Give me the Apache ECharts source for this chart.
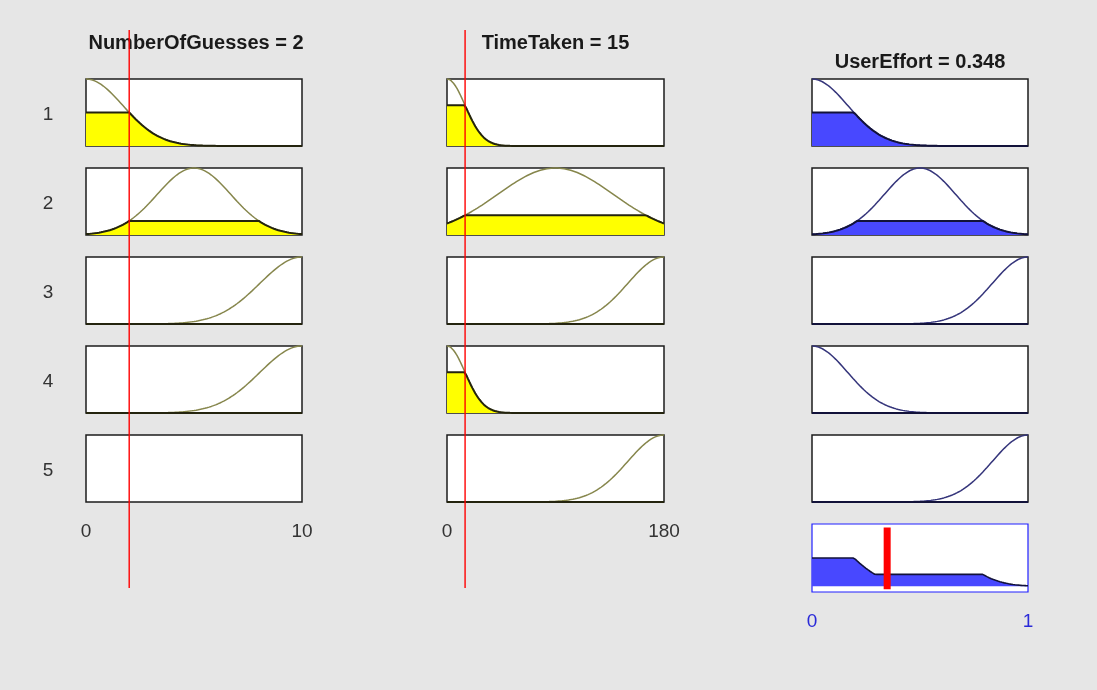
<!DOCTYPE html>
<html><head><meta charset="utf-8">
<script src="https://cdn.jsdelivr.net/npm/echarts@6/dist/echarts.min.js"></script>
<style>html,body{margin:0;padding:0;background:#e6e6e6}#c{width:1097px;height:690px}</style>
</head><body><div id="c"></div><script>
// ---- data ----
const inputNames = ['NumberOfGuesses', 'TimeTaken'];
const inputValues = [2, 15];
const outputName = 'UserEffort';
const outputValue = 0.348;
const nogRange = [0, 10];
const ttRange = [0, 180];
const ueRange = [0, 1];
// Gaussian membership-function parameters per rule row (null = rule does not use the input)
const nogCenters = [0, 5, 10, 10, null];
const nogSigmas  = [1.7, 1.7, 1.95, 1.95, null];
const ttCenters  = [0, 90, 180, 0, 180];
const ttSigmas   = [15, 48, 30, 15, 30];
const ueCenters  = [0, 0.5, 1, 0, 1];
const ueSigmas   = [0.165, 0.165, 0.165, 0.165, 0.165];
const ruleLabels = ['1', '2', '3', '4', '5'];
const nogTicks = ['0', '10'];
const ttTicks = ['0', '180'];
const ueTicks = ['0', '1'];

// ---- layout / style ----
const colLeft = [86, 447, 812], colWidth = [216, 217, 216];
const rowTop = [79, 168, 257, 346, 435], rowH = 67;
const outTop = 524, outH = 68;
const FONT = '"Liberation Sans", Arial, Helvetica, sans-serif';
const inCurve = '#86864c', inFill = '#ffff00', inEdge = '#24240e';
const outCurve = '#34347a', outFill = '#4848ff', outEdge = '#12123a';

function gauss(x, c, s) { return Math.exp(-((x - c) * (x - c)) / (2 * s * s)); }
function samples(range, n) { const a = []; for (let i = 0; i <= n; i++) a.push(range[0] + (range[1] - range[0]) * i / n); return a; }

const grids = [], xAxes = [], yAxes = [], series = [], titles = [];
function addGrid(left, top, width, height, range, ymin, ymax, border, show, ticks) {
  const gi = grids.length;
  grids.push({ left, top, width, height, show, borderColor: border, borderWidth: 1.5, backgroundColor: show ? '#fff' : 'transparent', containLabel: false });
  xAxes.push({ gridIndex: gi, type: 'value', min: range[0], max: range[1], interval: range[1] - range[0],
    axisLine: { show: false }, axisTick: { show: false }, splitLine: { show: false },
    axisLabel: ticks ? { show: true, margin: 20, fontSize: 19, fontFamily: FONT, color: ticks.color,
      showMinLabel: true, showMaxLabel: true, formatter: (v) => v === range[0] ? ticks.labels[0] : ticks.labels[1] } : { show: false } });
  yAxes.push({ gridIndex: gi, type: 'value', min: ymin, max: ymax, show: false });
  return gi;
}

const inputs = [
  { range: nogRange, centers: nogCenters, sigmas: nogSigmas, ticks: nogTicks },
  { range: ttRange, centers: ttCenters, sigmas: ttSigmas, ticks: ttTicks }
];
const firing = [1, 1, 1, 1, 1];

inputs.forEach((inp, c) => {
  const xs = samples(inp.range, 300);
  for (let r = 0; r < 5; r++) {
    const last = r === 4;
    const gi = addGrid(colLeft[c], rowTop[r], colWidth[c], rowH, inp.range, 0, 1, '#1c1c1c', true,
      last ? { labels: inp.ticks, color: '#333' } : null);
    if (inp.centers[r] === null) continue;
    const cc = inp.centers[r], ss = inp.sigmas[r];
    const level = gauss(inputValues[c], cc, ss);
    firing[r] = Math.min(firing[r], level);
    series.push({ type: 'line', xAxisIndex: gi, yAxisIndex: gi, symbol: 'none', clip: false, silent: true, z: 3,
      lineStyle: { color: inCurve, width: 1.5 }, data: xs.map(x => [x, gauss(x, cc, ss)]) });
    series.push({ type: 'line', xAxisIndex: gi, yAxisIndex: gi, symbol: 'none', clip: false, silent: true, z: 4,
      lineStyle: { color: inEdge, width: 2 }, areaStyle: { color: inFill, opacity: 1 },
      data: xs.map(x => [x, Math.min(gauss(x, cc, ss), level)]) });
  }
  // vertical input marker spanning all rows
  const gi = addGrid(colLeft[c], 30, colWidth[c], 558, inp.range, 0, 1, 'transparent', false, null);
  series.push({ type: 'line', xAxisIndex: gi, yAxisIndex: gi, symbol: 'none', silent: true, z: 10,
    lineStyle: { color: '#ff0000', width: 1.4 }, data: [[inputValues[c], 0], [inputValues[c], 1]] });
});

// output column
const uxs = samples(ueRange, 300);
for (let r = 0; r < 5; r++) {
  const gi = addGrid(colLeft[2], rowTop[r], colWidth[2], rowH, ueRange, 0, 1, '#1c1c1c', true, null);
  const cc = ueCenters[r], ss = ueSigmas[r], w = firing[r];
  series.push({ type: 'line', xAxisIndex: gi, yAxisIndex: gi, symbol: 'none', clip: false, silent: true, z: 3,
    lineStyle: { color: outCurve, width: 1.5 }, data: uxs.map(x => [x, gauss(x, cc, ss)]) });
  series.push({ type: 'line', xAxisIndex: gi, yAxisIndex: gi, symbol: 'none', clip: false, silent: true, z: 4,
    lineStyle: { color: outEdge, width: 2 }, areaStyle: { color: outFill, opacity: 1 },
    data: uxs.map(x => [x, Math.min(gauss(x, cc, ss), w)]) });
}
// aggregated output
{
  const gi = addGrid(colLeft[2], outTop, colWidth[2], outH, ueRange, -0.1, 1.1, '#2020ff', true,
    { labels: ueTicks, color: '#2a2ad8' });
  grids[gi].borderWidth = 1.2;
  const agg = uxs.map(x => {
    let m = 0;
    for (let r = 0; r < 5; r++) m = Math.max(m, Math.min(gauss(x, ueCenters[r], ueSigmas[r]), firing[r]));
    return [x, m];
  });
  series.push({ type: 'line', xAxisIndex: gi, yAxisIndex: gi, symbol: 'none', silent: true, z: 4,
    lineStyle: { color: outEdge, width: 1.6 }, areaStyle: { color: outFill, opacity: 1, origin: 'auto' }, data: agg });
  series.push({ type: 'line', xAxisIndex: gi, yAxisIndex: gi, symbol: 'none', silent: true, z: 10,
    lineStyle: { color: '#ff0000', width: 7 }, data: [[outputValue, -0.05], [outputValue, 1.04]] });
}

// titles and row labels
const colCenters = colLeft.map((l, i) => l + colWidth[i] / 2);
const titleStyle = { fontFamily: FONT, fontSize: 20, fontWeight: 'bold', color: '#1a1a1a' };
titles.push({ text: inputNames[0] + ' = ' + inputValues[0], left: colCenters[0] + 2, top: 43, padding: 0, textAlign: 'center', textVerticalAlign: 'middle', textStyle: titleStyle });
titles.push({ text: inputNames[1] + ' = ' + inputValues[1], left: colCenters[1], top: 43, padding: 0, textAlign: 'center', textVerticalAlign: 'middle', textStyle: titleStyle });
titles.push({ text: outputName + ' = ' + outputValue, left: colCenters[2], top: 62, padding: 0, textAlign: 'center', textVerticalAlign: 'middle', textStyle: titleStyle });
ruleLabels.forEach((t, r) => titles.push({ text: t, left: 48, top: rowTop[r] + rowH / 2 + 2, padding: 0, textAlign: 'center', textVerticalAlign: 'middle',
  textStyle: { fontFamily: FONT, fontSize: 19, fontWeight: 'normal', color: '#333' } }));

const chart = echarts.init(document.getElementById('c'));
chart.setOption({ backgroundColor: '#e6e6e6', animation: false, title: titles, grid: grids, xAxis: xAxes, yAxis: yAxes, series });
</script></body></html>
